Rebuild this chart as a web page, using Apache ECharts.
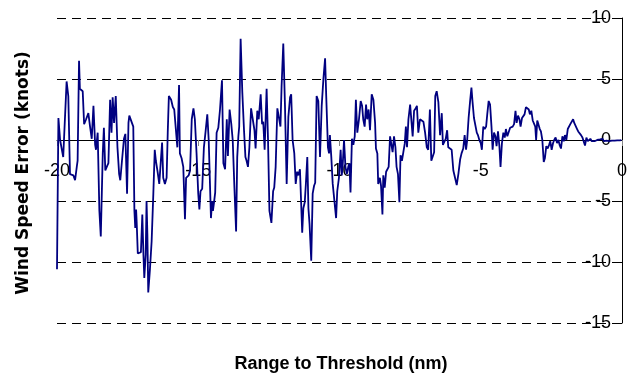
<!DOCTYPE html>
<html>
<head>
<meta charset="utf-8">
<script src="https://cdn.jsdelivr.net/npm/echarts@6/dist/echarts.min.js"></script>
<style>
  html, body { margin: 0; padding: 0; background: #fff; }
  #chart { width: 636px; height: 375px; }
</style>
</head>
<body>
<div id="chart"></div>
<script>
// range to threshold (nm)
var ranges = [
  -20.00, -19.95, -19.89, -19.78, -19.66, -19.60, -19.54, -19.48, -19.42, -19.36,
  -19.30, -19.27, -19.22, -19.19, -19.13, -19.09, -19.04, -18.97, -18.89, -18.83,
  -18.77, -18.71, -18.65, -18.62, -18.56, -18.50, -18.45, -18.38, -18.34, -18.29,
  -18.22, -18.18, -18.12, -18.07, -18.03, -17.98, -17.92, -17.86, -17.80, -17.76,
  -17.70, -17.63, -17.58, -17.52, -17.47, -17.44, -17.38,
  -17.30, -17.26, -17.23, -17.20, -17.18, -17.14, -17.09, -17.03, -16.98, -16.94,
  -16.91, -16.86, -16.83, -16.80, -16.77, -16.71, -16.65, -16.59, -16.54, -16.50,
  -16.44, -16.38, -16.33, -16.28, -16.24, -16.18, -16.12, -16.08, -16.04, -15.96,
  -15.90, -15.85, -15.80, -15.74, -15.68, -15.65, -15.59, -15.53, -15.47, -15.43,
  -15.38, -15.34, -15.29, -15.23, -15.17, -15.12, -15.06, -15.00, -14.96, -14.92,
  -14.86, -14.80, -14.74, -14.68, -14.63,
  -14.55, -14.51, -14.48, -14.44, -14.40, -14.35, -14.29, -14.23, -14.16, -14.11,
  -14.05, -13.99, -13.95, -13.89, -13.83, -13.78, -13.72, -13.66, -13.62, -13.58,
  -13.55, -13.50, -13.44, -13.38, -13.33, -13.29, -13.24, -13.19, -13.13, -13.07,
  -13.01, -12.97, -12.91, -12.86, -12.79, -12.74, -12.70, -12.65, -12.58, -12.53,
  -12.48, -12.41, -12.35, -12.31, -12.26, -12.20, -12.15, -12.09, -12.05, -11.99,
  -11.93, -11.87, -11.81, -11.75, -11.71,
  -11.66, -11.60, -11.55, -11.50, -11.46, -11.40, -11.35, -11.32, -11.28, -11.23,
  -11.19, -11.14, -11.10, -11.06, -11.00, -10.95, -10.90, -10.86, -10.81, -10.75,
  -10.69, -10.63, -10.57, -10.51, -10.47, -10.41, -10.37, -10.34, -10.29, -10.24,
  -10.19, -10.12, -10.08, -10.02, -9.96, -9.92, -9.89, -9.84, -9.79, -9.74,
  -9.69, -9.65, -9.61, -9.56, -9.51, -9.46, -9.42, -9.37, -9.31, -9.25,
  -9.20, -9.16, -9.11, -9.06, -9.02, -8.97, -8.92, -8.86, -8.80,
  -8.74, -8.71, -8.66, -8.63, -8.57, -8.53, -8.48, -8.45, -8.40, -8.35,
  -8.30, -8.26, -8.21, -8.17, -8.12, -8.07, -8.02, -7.98, -7.93, -7.88,
  -7.84, -7.79, -7.74, -7.69, -7.65, -7.61, -7.56, -7.50, -7.46, -7.41,
  -7.36, -7.30, -7.26, -7.21, -7.15, -7.09, -7.03, -6.97, -6.91, -6.86,
  -6.80, -6.75, -6.70, -6.65, -6.61, -6.56, -6.50, -6.44, -6.38, -6.34,
  -6.29, -6.24, -6.19, -6.15, -6.09, -6.03,
  -5.97, -5.91, -5.85, -5.79, -5.73, -5.68, -5.62, -5.57, -5.52, -5.48,
  -5.43, -5.38, -5.33, -5.29, -5.24, -5.19, -5.14, -5.10, -5.05, -5.00,
  -4.96, -4.91, -4.86, -4.81, -4.77, -4.72, -4.67, -4.62, -4.58, -4.53,
  -4.48, -4.44, -4.39, -4.34, -4.30, -4.25, -4.20, -4.15, -4.11, -4.06,
  -4.01, -3.96, -3.92, -3.87, -3.82, -3.77, -3.73, -3.68, -3.63, -3.59,
  -3.54, -3.49, -3.45, -3.40, -3.35, -3.30, -3.26, -3.21, -3.16, -3.12,
  -3.07,
  -3.04, -3.00, -2.96, -2.91, -2.87, -2.82, -2.77, -2.73, -2.68, -2.63,
  -2.58, -2.54, -2.49, -2.44, -2.40, -2.35, -2.30, -2.25, -2.21, -2.16,
  -2.11, -2.06, -2.02, -1.97, -1.92, -1.88, -1.83, -1.78, -1.73, -1.69,
  -1.64, -1.59, -1.55, -1.50, -1.45, -1.40, -1.36, -1.31, -1.26, -1.21,
  -1.16, -1.12, -1.07, -1.02, -0.97, -0.93, -0.88, -0.83, -0.78, -0.74,
  -0.69, -0.64, -0.59, -0.55, -0.50, -0.45, -0.40, -0.36, -0.31, -0.26,
  -0.21, -0.17, -0.12, -0.07, -0.02
];

// wind speed error (knots) at each range
var errors = [
  -10.6, 1.8, 0, -1.4, 4.8, 3.6, -2.8, -2.8, -2.9, -3.3,
  -2.2, -1.7, 6.5, 4.2, 4.3, 4.0, 1.3, 1.7, 2.2, 1.1,
  0.1, 2.8, -0.4, -0.8, 0.6, -5.8, -7.9, -1.1, 1.0, -2.5,
  -2.1, -1.9, 3.3, 0.6, 3.5, 1.4, 3.6, -0.6, -2.8, -3.3,
  -1.7, 0.1, 0.5, -4.4, 1.4, 2.0, 2.1,
  1.1, -5.8, -7.2, -5.7, -6.7, -9.3, -9.3, -9.2, -6.1, -9.4,
  -11.3, -9.4, -5.0, -7.8, -12.5, -10.6, -8.3, -4.4, -0.8, -1.7,
  -2.6, -3.6, -1.9, -0.2, -3.1, -3.6, -3.1, 0.6, 3.6, 3.3,
  2.7, 2.5, 2.6, -0.6, 4.5, -1.1, -1.5, -2.2, -6.5, -3.1,
  -3.1, -2.9, -2.5, 1.7, 2.6, 1.7, -1.1, -4.4, -5.7, -4.2,
  -4.0, -0.6, 0.7, 2.1, 0,
  -6.4, -5.0, -5.8, -5.1, -4.3, 0.6, 1.0, 2.5, 4.9, -1.9,
  -2.4, 1.7, -1.3, 2.5, 1.3, 0, -3.9, -7.5, -1.4, 0.3,
  1.1, 8.3, 3.9, 0.8, -1.4, -1.7, -2.2, -0.6, 2.6, 2.5,
  0.8, -0.7, 2.4, 1.7, 3.75, 1.3, 1.5, -0.8, 4.2, 0,
  -5.8, -6.8, -4.2, -3.9, -2.2, 2.6, 2.5, 1.1, 4.4, 7.9,
  2.8, -3.6, 1.9, 3.5, 3.75,
  0, -1.1, -3.6, -2.6, -2.9, -2.4, -2.5, -7.6, -5.6, -5.1,
  -3.6, -1.4, -5.6, -6.9, -9.9, -4.4, -3.75, -3.5, 3.6, 3.2,
  -1.4, 2.8, 5.0, 6.7, 3.6, -0.6, -1.1, 0.4, -1.4, -3.6,
  -3.75, -6.4, -4.2, -3.1, -0.8, -2.9, -2.2, 0, -2.2, -2.8,
  -2.2, -1.9, -4.3, 0.1, -0.4, 0.3, 3.3, 0.6, 1.7, 3.2,
  2.8, 1.7, 1.1, 2.9, 1.7, 2.5, 0.8, 3.75, 3.3,
  1.4, -0.7, -1.1, -3.6, -3.1, -3.75, -6.1, -2.9, -3.9, -2.6,
  -2.5, -2.2, 0.3, 0.3, -1.0, 0.3, -0.6, -2.2, -2.8, -5.1,
  -1.25, -1.7, -1.0, -0.3, 1.1, -0.6, 1.7, 2.9, 2.9, 0.3,
  2.4, 2.6, 2.8, 0.6, 1.7, 1.8, 1.5, 0.6, -0.6, -0.8,
  2.5, -1.7, -1.7, -1.0, 3.6, 4.0, 3.1, 0.4, 2.2, -0.4,
  -0.4, 0.1, 0.8, -0.6, -0.6, -0.8,
  -2.5, -3.1, -3.7, -2.75, -1.6, -1.1, -0.7, 0.4, -0.8, 0,
  1.8, 3.1, 4.3, 3.1, 1.8, 1.7, 0.6, 0.4, 0, -0.25,
  -0.8, 1.1, 0.9, 1.1, 2.1, 3.2, 2.9, 1.1, -0.8, 0.6,
  0.3, -0.5, 0.7, -0.5, -2.2, -0.25, 0.6, 0.2, 0.9, 0.3,
  0.2, 1.0, 1.0, 1.1, 1.3, 2.4, 1.4, 2.0, 1.7, 1.1,
  1.8, 1.7, 2.1, 2.7, 2.7, 2.5, 2.1, 2.4, 1.6, 1.7,
  1.1,
  0, 1.6, 1.3, 0.9, 0.7, 0, -1.8, -1.5, -0.5, -0.7,
  -0.4, -0.1, -0.8, -0.25, 0, 0.2, -0.25, 0, -0.4, -0.7,
  0.3, -0.1, 0.4, 0, 0.9, 1.0, 1.3, 1.4, 1.7, 1.4,
  1.3, 0.9, 0.7, 0.6, 0.4, 0.2, 0.3, -0.45, 0.2, -0.1,
  0.05, 0.1, -0.1, 0, -0.1, 0.05, 0, -0.1, 0.05, -0.05,
  0.1, -0.1, 0, -0.05, 0.05, -0.1, 0.05, -0.05, 0, -0.05,
  0.05, -0.03, 0.03, -0.03, 0
];

var xTicks = [-20, -15, -10, -5, 0];
var yTicks = [-15, -10, -5, 0, 5, 10];

var font = "'Liberation Sans', Arial, sans-serif";
var points = ranges.map(function (r, i) { return [r, errors[i]]; });

var gridTop = 18, gridBottom = 52;
var plotH = 375 - gridTop - gridBottom;
// x axis sits on the zero line, lifted up from the bottom of the grid
var zeroLift = plotH * (0 - yTicks[0]) / (yTicks[yTicks.length - 1] - yTicks[0]);

var myChart = echarts.init(document.getElementById('chart'));

option = {
    animation: false,
    grid: {
        left: 57,
        right: 14,
        top: gridTop,
        bottom: gridBottom
    },
    xAxis: {
        type: 'value',
        min: xTicks[0],
        max: xTicks[xTicks.length - 1],
        interval: 5,
        offset: -zeroLift,
        axisLine: { onZero: false, lineStyle: { color: '#000', width: 1 } },
        axisTick: { show: true, length: 6, lineStyle: { color: '#888' } },
        axisLabel: { margin: 22, fontSize: 18, color: '#000', fontFamily: font },
        splitLine: { show: false }
    },
    yAxis: {
        type: 'value',
        position: 'right',
        min: yTicks[0],
        max: yTicks[yTicks.length - 1],
        interval: 5,
        axisLine: { show: true, onZero: false, lineStyle: { color: '#000', width: 1 } },
        axisTick: { show: true, inside: true, length: 6, lineStyle: { color: '#000' } },
        axisLabel: { inside: true, margin: 11, fontSize: 18, color: '#000', fontFamily: font },
        splitLine: { show: true, lineStyle: { color: '#000', type: [9, 6], width: 1 } }
    },
    graphic: [
        {
            type: 'text',
            x: 24,
            y: 173,
            rotation: Math.PI / 2,
            style: {
                text: 'Wind Speed Error (knots)',
                textAlign: 'center',
                textVerticalAlign: 'middle',
                font: "bold 17px 'DejaVu Sans', sans-serif",
                fill: '#000'
            }
        },
        {
            type: 'text',
            x: 341,
            y: 364,
            style: {
                text: 'Range to Threshold (nm)',
                textAlign: 'center',
                textVerticalAlign: 'middle',
                font: "bold 18px 'Liberation Sans', Arial, sans-serif",
                fill: '#000'
            }
        }
    ],
    series: [{
        type: 'line',
        data: points,
        symbol: 'none',
        silent: true,
        lineStyle: { color: '#000080', width: 1.8 }
    }]
};

myChart.setOption(option);
</script>
</body>
</html>
